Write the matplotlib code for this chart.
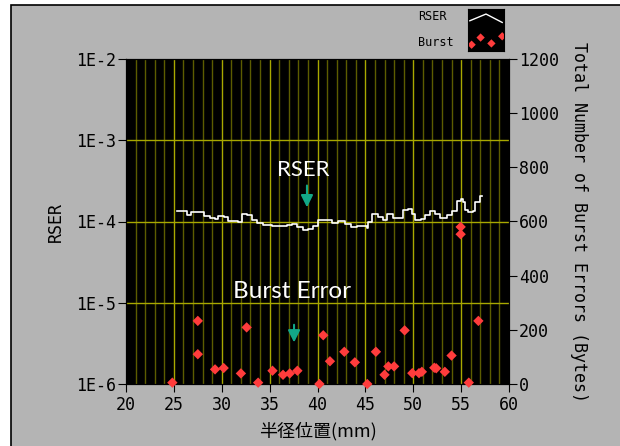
import numpy as np
import matplotlib.pyplot as plt
from matplotlib.patches import Rectangle

# RSER trace (step line), radius in mm
rser_mm = [25.36, 26.40, 26.75, 27.90, 28.15, 28.77, 29.30, 29.64, 30.24, 30.69,
           31.73, 32.08, 32.60, 33.12, 33.65, 34.34, 35.21, 36.08, 36.78, 37.30,
           37.82, 38.52, 39.04, 39.57, 40.09, 40.96, 41.48, 42.18, 42.87, 43.46,
           44.09, 45.14, 45.31, 45.66, 46.35, 46.88, 47.29, 47.92, 48.62, 48.96,
           49.49, 49.84, 50.18, 50.78, 51.23, 51.75, 52.27, 52.80, 53.49, 54.01,
           54.54, 54.95, 55.23, 55.37, 55.75, 56.21, 56.45, 56.97, 57.15]
rser_val = [1.35e-4, 1.21e-4, 1.30e-4, 1.30e-4, 1.16e-4, 1.12e-4, 1.08e-4, 1.16e-4, 1.14e-4, 1.02e-4,
            1.00e-4, 1.23e-4, 1.21e-4, 1.04e-4, 0.953e-4, 0.893e-4, 0.868e-4, 0.885e-4, 0.91e-4, 0.927e-4,
            0.844e-4, 0.782e-4, 0.812e-4, 0.868e-4, 1.05e-4, 1.04e-4, 0.963e-4, 1.02e-4, 0.927e-4, 0.844e-4,
            0.877e-4, 0.828e-4, 1.00e-4, 1.23e-4, 1.14e-4, 1.04e-4, 1.23e-4, 1.12e-4, 1.12e-4, 1.38e-4,
            1.43e-4, 1.23e-4, 1.04e-4, 1.06e-4, 1.21e-4, 1.35e-4, 1.25e-4, 1.12e-4, 1.21e-4, 1.33e-4,
            1.79e-4, 1.90e-4, 1.76e-4, 1.38e-4, 1.30e-4, 1.35e-4, 1.73e-4, 2.05e-4, 2.05e-4]

# burst error counts (bytes)
burst_mm = [24.84, 27.5, 27.5, 29.3, 30.2, 32.0, 32.6, 33.8, 35.3, 36.4,
            37.1, 37.9, 40.2, 40.6, 41.3, 42.8, 43.9, 45.2, 46.1, 47.0,
            47.4, 48.0, 49.1, 49.9, 50.6, 50.9, 52.2, 52.4, 53.3, 54.0,
            54.95, 54.95, 55.8, 56.8]
burst_val = [5, 233, 110, 54, 59, 39, 209, 5, 49, 34,
             39, 49, 0, 180, 84, 119, 80, 0, 119, 34,
             65, 65, 198, 40, 40, 45, 60, 58, 45, 105,
             580, 553, 5, 233]

x_ticks = [20, 25, 30, 35, 40, 45, 50, 55, 60]
y_ticks = [1e-6, 1e-5, 1e-4, 1e-3, 1e-2]
y_labels = ['1E-6', '1E-5', '1E-4', '1E-3', '1E-2']
y2_ticks = [0, 200, 400, 600, 800, 1000, 1200]

BG = '#b4b4b4'
MONO = 'DejaVu Sans Mono'
ARROW = '#12a888'

fig = plt.figure(figsize=(6.2, 4.46), dpi=100, facecolor='white')
# panel frame
fig.patches.append(Rectangle((11 / 620, -0.05), 1.0, 1 - 5 / 446 + 0.05,
                             transform=fig.transFigure, facecolor=BG,
                             edgecolor='black', linewidth=1.2, zorder=-10))

ax = fig.add_axes([126 / 620, 1 - 384 / 446, 383 / 620, 325 / 446])
ax.set_facecolor('black')
ax.set_yscale('log')
ax.set_xlim(20, 60)
ax.set_ylim(1e-6, 1e-2)

# grid
for xm in np.arange(21, 60):
    if xm % 5:
        ax.axvline(xm, color='#5c5c00', lw=1, zorder=1)
for xm in x_ticks[1:-1]:
    ax.axvline(xm, color='#a8a800', lw=1, zorder=1)
for yv in y_ticks[1:-1]:
    ax.axhline(yv, color='#a8a800', lw=1, zorder=1)

ax.plot(rser_mm, rser_val, drawstyle='steps-post', color='white', lw=1.2, zorder=3)

ax.set_xticks(x_ticks)
ax.set_yticks(y_ticks)
ax.set_yticklabels(y_labels)
ax.minorticks_off()
ax.tick_params(axis='both', direction='out', length=6, color='black',
               labelsize=12, pad=1)
ax.tick_params(axis='x', pad=3)
for lab in ax.get_xticklabels() + ax.get_yticklabels():
    lab.set_family(MONO)
for s in ax.spines.values():
    s.set_color('black')
ax.set_xlabel('半径位置(mm)', fontsize=13, family=['Noto Sans CJK JP', 'DejaVu Sans'],
              labelpad=5)
ax.set_ylabel('RSER', fontsize=12, family=MONO, labelpad=8)

ax2 = ax.twinx()
ax2.set_ylim(0, 1200)
ax2.set_yticks(y2_ticks)
ax2.tick_params(axis='y', direction='out', length=6, color='black', labelsize=12, pad=1)
for lab in ax2.get_yticklabels():
    lab.set_family(MONO)
ax2.scatter(burst_mm, burst_val, marker='D', s=28, color='#ff3c3c',
            edgecolors='none', zorder=4, clip_on=False)
ax2.set_ylabel('Total Number of Burst Errors (Bytes)', rotation=-90,
               fontsize=12, family=MONO, labelpad=21)

# annotations
ax.text(38.5, 4.3e-4, 'RSER', color='white', fontsize=16, family='Lato',
        ha='center', va='center', zorder=5)
ax.annotate('', xy=(38.9, 1.38e-4), xytext=(38.9, 3.0e-4),
            arrowprops=dict(arrowstyle='-|>', color=ARROW, lw=1.5,
                            mutation_scale=18), zorder=5)
ax.text(37.3, 1.36e-5, 'Burst Error', color='white', fontsize=17.5, family='Lato',
        ha='center', va='center', zorder=5)
ax.annotate('', xy=(37.55, 3.0e-6), xytext=(37.55, 5.8e-6),
            arrowprops=dict(arrowstyle='-|>', color=ARROW, lw=1.5,
                            mutation_scale=18), zorder=5)

# legend swatch
lg = fig.add_axes([468 / 620, 1 - 51 / 446, 36 / 620, 42 / 446])
lg.set_facecolor('black')
lg.set_xlim(0, 1)
lg.set_ylim(0, 1)
lg.set_xticks([])
lg.set_yticks([])
lg.plot([0.05, 0.5, 0.95], [0.72, 0.88, 0.68], color='white', lw=1)
lg.scatter([0.1, 0.35, 0.65, 0.95], [0.15, 0.32, 0.18, 0.35], marker='D', s=18,
           color='#ff3c3c', edgecolors='none', clip_on=True)
fig.text(418 / 620, 1 - 17 / 446, 'RSER', fontsize=8.5, family=MONO,
         ha='left', va='center')
fig.text(418 / 620, 1 - 43 / 446, 'Burst', fontsize=8.5, family=MONO,
         ha='left', va='center')

fig.savefig('out.png', dpi=100, facecolor=fig.get_facecolor())
